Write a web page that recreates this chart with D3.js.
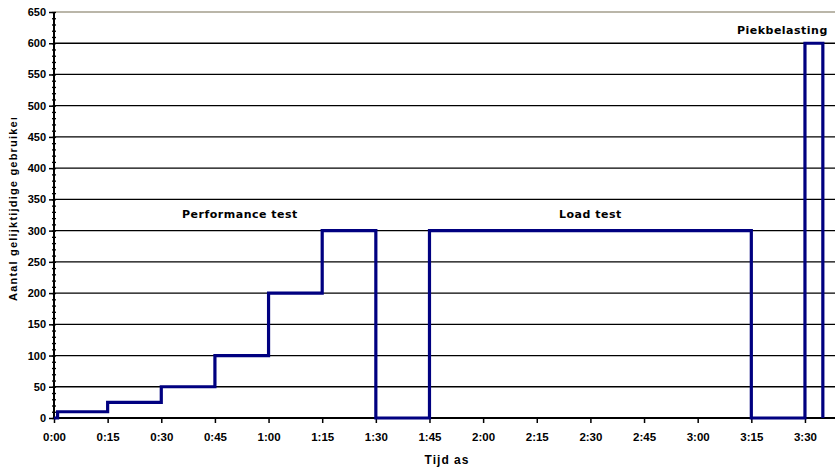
<!DOCTYPE html>
<html>
<head>
<meta charset="utf-8">
<script src="https://cdn.jsdelivr.net/npm/d3@7"></script>
<style>
    body { padding: 0; margin: 0; background: #fff; }
    text { font-family: "Liberation Sans", Arial, sans-serif; font-weight: bold; }
</style>
</head>
<body>
<script>
// step series: minutes since start -> concurrent users
const minutes = [0, 1, 15, 30, 45, 60, 75, 90, 105, 195, 210, 215];
const users   = [0, 10, 25, 50, 100, 200, 300, 0, 300, 0, 600, 0];
const xTicks = [0, 15, 30, 45, 60, 75, 90, 105, 120, 135, 150, 165, 180, 195, 210];
const yTicks = d3.range(0, 651, 50);
const notes = [
    {label: 'Performance test', t: 52, v: 320},
    {label: 'Load test', t: 150, v: 320},
    {label: 'Piekbelasting', t: 215, v: 615}
];

const width = 835, height = 469;
const m = {left: 54, top: 12, right: 0, bottom: 51};

const x = d3.scaleLinear().domain([0, 218.4]).range([m.left, width - m.right]);
const y = d3.scaleLinear().domain([0, 650]).range([height - m.bottom, m.top]);

const svg = d3.select('body').append('svg')
    .attr('width', width)
    .attr('height', height);

// horizontal grid
svg.append('g')
    .selectAll('line')
    .data(yTicks.filter(d => d > 0))
    .join('line')
        .attr('x1', m.left).attr('x2', width)
        .attr('y1', d => y(d)).attr('y2', d => y(d))
        .attr('stroke', d => d === 650 ? '#a39e8c' : '#000')
        .attr('stroke-width', d => d === 650 ? 1.5 : 1.3);

// y axis with minor ticks
svg.append('g')
    .attr('transform', `translate(${m.left},0)`)
    .call(d3.axisLeft(y).tickValues(d3.range(0, 651, 10)).tickSize(3).tickFormat(''))
    .call(g => g.select('.domain').remove())
    .call(g => g.selectAll('line').attr('stroke-width', 1.3).attr('x2', 2).attr('x1', -2));

svg.append('g')
    .attr('transform', `translate(${m.left},0)`)
    .call(d3.axisLeft(y).tickValues(yTicks).tickSize(5).tickPadding(3))
    .call(g => g.select('.domain').attr('stroke-width', 2).attr('d', `M0,${y(0)}V${y(650)}`))
    .call(g => g.selectAll('line').attr('stroke-width', 1.5))
    .call(g => g.selectAll('text').attr('font-size', 11).attr('fill', '#000'));

// x axis
svg.append('g')
    .attr('transform', `translate(0,${y(0)})`)
    .call(d3.axisBottom(x).tickValues(xTicks).tickSize(5).tickPadding(10)
        .tickFormat(d => `${Math.floor(d / 60)}:${String(d % 60).padStart(2, '0')}`))
    .call(g => g.select('.domain').attr('stroke-width', 2).attr('d', `M${m.left},0H${width}`))
    .call(g => g.selectAll('line').attr('stroke-width', 1.5))
    .call(g => g.selectAll('text').attr('font-size', 11.5).attr('fill', '#000'));

// step line
const pts = minutes.map((t, i) => [t, users[i]]);
svg.append('path')
    .datum(pts)
    .attr('fill', 'none')
    .attr('stroke', '#000080')
    .attr('stroke-width', 3.2)
    .attr('stroke-linejoin', 'miter')
    .attr('d', d3.line().x(d => x(d[0])).y(d => y(d[1])).curve(d3.curveStepAfter));

// annotations
svg.append('g')
    .selectAll('text')
    .data(notes)
    .join('text')
        .attr('x', (d, i) => i === 2 ? x(d.t) + 5 : x(d.t))
        .attr('y', d => y(d.v))
        .attr('text-anchor', (d, i) => i === 2 ? 'end' : 'middle')
        .attr('font-size', 11)
        .attr('letter-spacing', 0.5)
        .style('font-family', '"DejaVu Sans", Verdana, sans-serif')
        .text(d => d.label);

// axis titles
svg.append('text')
    .attr('x', 447)
    .attr('y', 464)
    .attr('text-anchor', 'middle')
    .attr('font-size', 12)
    .attr('letter-spacing', 1)
    .text('Tijd as');

svg.append('clipPath').attr('id', 'ylab-clip')
    .append('rect').attr('x', 0).attr('y', 118).attr('width', 30).attr('height', 300);

svg.append('g')
    .attr('clip-path', 'url(#ylab-clip)')
    .append('text')
        .attr('transform', 'translate(17,301) rotate(-90)')
        .attr('text-anchor', 'start')
        .attr('font-size', 11)
        .attr('letter-spacing', 1.2)
        .text('Aantal gelijktijdige gebruikers');
</script>
</body>
</html>
